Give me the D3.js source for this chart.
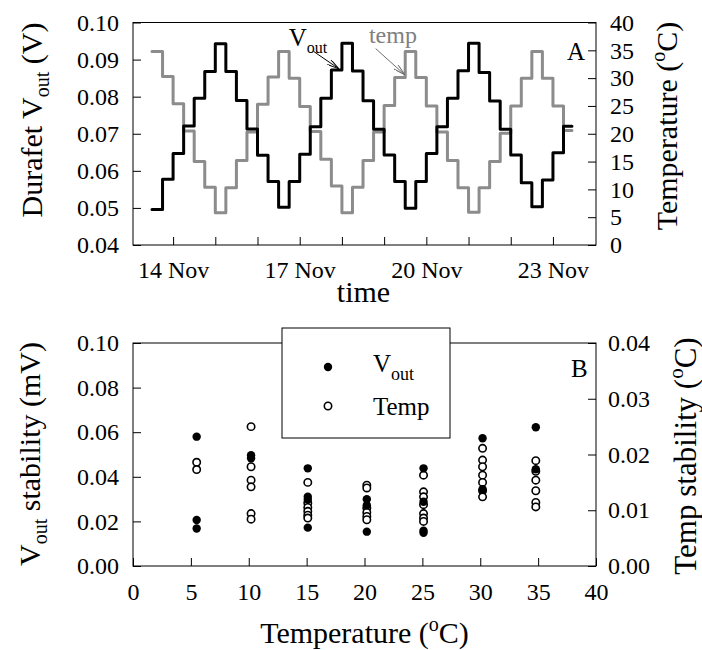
<!DOCTYPE html>
<meta charset="utf-8">
<style>
body { margin: 0; background: #fff; }
text { font-family: "Liberation Serif", "Times New Roman", serif; }
.frame { fill: none; stroke: #000; stroke-width: 1px; }
.step { fill: none; stroke-width: 3px; stroke-linejoin: round; stroke-linecap: round; }
</style>
<body>
<div id="chart"></div>
<script src="https://d3js.org/d3.v7.min.js"></script>
<script>
// ---- panel A : set-point steps (start day in November, 6 h each) ----
var stepDays = [13.50, 13.75, 14.00, 14.25, 14.50, 14.75, 15.00, 15.25, 15.50, 15.75,
                16.00, 16.25, 16.50, 16.75, 17.00, 17.25, 17.50, 17.75, 18.00, 18.25,
                18.50, 18.75, 19.00, 19.25, 19.50, 19.75, 20.00, 20.25, 20.50, 20.75,
                21.00, 21.25, 21.50, 21.75, 22.00, 22.25, 22.50, 22.75, 23.00, 23.25];
var endDay = 23.45;
var tempSteps = [34.8, 30.3, 25.4, 20.5, 15.0, 10.4, 5.8, 10.3, 15.2, 20.3, 25.3, 30.2,
                 34.8, 30.0, 24.9, 20.4, 15.4, 10.6, 5.8, 10.4, 15.2, 20.3, 25.1, 30.1,
                 34.8, 30.1, 25.0, 20.3, 15.2, 10.3, 5.9, 10.3, 15.0, 20.1, 25.0, 30.0,
                 34.8, 30.0, 25.0, 20.6];
var voutSteps = [0.0496, 0.0577, 0.0647, 0.0721, 0.0796, 0.0868, 0.0943, 0.0868, 0.0790, 0.0713, 0.0642, 0.0571,
                 0.0502, 0.0571, 0.0645, 0.0719, 0.0796, 0.0872, 0.0944, 0.0869, 0.0789, 0.0712, 0.0643, 0.0571,
                 0.0499, 0.0571, 0.0647, 0.0719, 0.0796, 0.0870, 0.0944, 0.0865, 0.0788, 0.0712, 0.0643, 0.0568,
                 0.0503, 0.0575, 0.0649, 0.0720];
var dayTicks = [14, 15, 16, 17, 18, 19, 20, 21, 22, 23];
var labelDays = [14, 17, 20, 23];
var labelNames = ["14 Nov", "17 Nov", "20 Nov", "23 Nov"];
var voltTicks = [0.04, 0.05, 0.06, 0.07, 0.08, 0.09, 0.10];
var tempTicks = [0, 5, 10, 15, 20, 25, 30, 35, 40];

// ---- panel B : stability at each set point ----
var stabTemps = [5.5, 10.2, 15.1, 20.2, 25.1, 30.2, 34.8];
var voutStab = [
  [0.0580, 0.0206, 0.0168],
  [0.0497, 0.0483],
  [0.0438, 0.0311, 0.0298, 0.0172],
  [0.0299, 0.0272, 0.0154],
  [0.0438, 0.0288, 0.0158, 0.0149],
  [0.0573, 0.0344],
  [0.0622, 0.0434]
];
var tempStab = [
  [0.0186, 0.0173],
  [0.0250, 0.0178, 0.0154, 0.0142, 0.0094, 0.0084],
  [0.0150, 0.0113, 0.0105, 0.0098, 0.0091, 0.0086],
  [0.0145, 0.0140, 0.0104, 0.0096, 0.0089, 0.0083],
  [0.0163, 0.0133, 0.0124, 0.0110, 0.0094, 0.0086, 0.0080],
  [0.0211, 0.0190, 0.0178, 0.0163, 0.0150, 0.0135, 0.0124],
  [0.0189, 0.0170, 0.0154, 0.0135, 0.0114, 0.0106]
];
var stabXTicks = [0, 5, 10, 15, 20, 25, 30, 35, 40];
var voutStabTicks = [0, 0.02, 0.04, 0.06, 0.08, 0.10];
var tempStabTicks = [0, 0.01, 0.02, 0.03, 0.04];

var tickFont = 24, titleFont = 30;

var svg = d3.select("#chart").append("svg")
    .attr("width", 702)
    .attr("height", 650);

// arrow head used by the curve labels
svg.append("defs").append("marker")
    .attr("id", "head")
    .attr("viewBox", "0 0 12 6")
    .attr("refX", 12).attr("refY", 3)
    .attr("markerWidth", 12).attr("markerHeight", 6)
    .attr("markerUnits", "userSpaceOnUse")
    .attr("orient", "auto")
  .append("path")
    .attr("d", "M0,0 L12,3 L0,6")
    .attr("fill", "none")
    .attr("stroke", "context-stroke")
    .attr("stroke-width", 1);

function styleAxis(g) {
  g.attr("font-size", tickFont).attr("font-family", "Liberation Serif, serif");
  g.select(".domain").remove();
  g.selectAll(".tick line").attr("stroke", "#000");
}

/* ================= panel A ================= */
var A = {left: 133, right: 596, top: 22.5, bottom: 245};
var xA = d3.scaleLinear().domain([13.05, 24.02]).range([A.left, A.right]);
var yV = d3.scaleLinear().domain([0.04, 0.10]).range([A.bottom, A.top]);
var yT = d3.scaleLinear().domain([0, 40]).range([A.bottom, A.top]);

var tempPts = stepDays.map(function(d, i) { return {x: d, y: tempSteps[i]}; });
tempPts.push({x: endDay, y: tempSteps[tempSteps.length - 1]});
var voutPts = stepDays.map(function(d, i) { return {x: d, y: voutSteps[i]}; });
voutPts.push({x: endDay, y: voutSteps[voutSteps.length - 1]});

var tempLine = d3.line().curve(d3.curveStepAfter)
    .x(function(d) { return xA(d.x); })
    .y(function(d) { return yT(d.y); });
var voutLine = d3.line().curve(d3.curveStepAfter)
    .x(function(d) { return xA(d.x); })
    .y(function(d) { return yV(d.y); });

svg.append("path").datum(tempPts)
    .attr("class", "step").attr("stroke", "#8c8c8c")
    .attr("d", tempLine);
svg.append("path").datum(voutPts)
    .attr("class", "step").attr("stroke", "#000")
    .attr("d", voutLine);

// axes (ticks point inward)
svg.append("g")
    .attr("transform", "translate(0," + A.bottom + ")")
    .call(d3.axisBottom(xA).tickValues(dayTicks).tickSizeInner(-8).tickSizeOuter(0).tickPadding(16)
      .tickFormat(function(d) { var i = labelDays.indexOf(d); return i < 0 ? "" : labelNames[i]; }))
    .call(styleAxis);
svg.append("g")
    .attr("transform", "translate(" + A.left + ",0)")
    .call(d3.axisLeft(yV).tickValues(voltTicks).tickSizeInner(-8).tickSizeOuter(0).tickPadding(14)
      .tickFormat(d3.format(".2f")))
    .call(styleAxis);
svg.append("g")
    .attr("transform", "translate(" + A.right + ",0)")
    .call(d3.axisRight(yT).tickValues(tempTicks).tickSizeInner(-8).tickSizeOuter(0).tickPadding(14))
    .call(styleAxis);

svg.append("rect").attr("class", "frame")
    .attr("x", A.left).attr("y", A.top)
    .attr("width", A.right - A.left).attr("height", A.bottom - A.top);

// curve labels
var vLab = svg.append("text")
    .attr("x", xA(16.74)).attr("y", yV(0.0936))
    .attr("font-size", 25);
vLab.append("tspan").text("V");
vLab.append("tspan").attr("dy", 7).attr("font-size", 16).text("out");
svg.append("line")
    .attr("x1", xA(17.33)).attr("y1", yV(0.0922))
    .attr("x2", xA(17.93)).attr("y2", yV(0.0875))
    .attr("stroke", "#000").attr("stroke-width", 1)
    .attr("marker-end", "url(#head)");

svg.append("text")
    .attr("x", xA(18.64)).attr("y", yT(36.4))
    .attr("font-size", 24).attr("fill", "#808080")
    .text("temp");
svg.append("line")
    .attr("x1", xA(18.80)).attr("y1", yT(35.3))
    .attr("x2", xA(19.49)).attr("y2", yT(30.6))
    .attr("stroke", "#707070").attr("stroke-width", 1)
    .attr("marker-end", "url(#head)");

svg.append("text").attr("x", 567).attr("y", 60).attr("font-size", 25).text("A");

// titles
svg.append("text")
    .attr("x", (A.left + A.right) / 2 - 1).attr("y", 302)
    .attr("text-anchor", "middle").attr("font-size", titleFont)
    .text("time");

var tl = svg.append("text")
    .attr("transform", "translate(42,120) rotate(-90)")
    .attr("text-anchor", "middle").attr("font-size", titleFont);
tl.append("tspan").text("Durafet V");
tl.append("tspan").attr("dy", 7).attr("font-size", 20).text("out");
tl.append("tspan").attr("dy", -7).text(" (V)");

var tr = svg.append("text")
    .attr("transform", "translate(677,126) rotate(-90)")
    .attr("text-anchor", "middle").attr("font-size", titleFont);
tr.append("tspan").text("Temperature (");
tr.append("tspan").attr("dy", -12).attr("font-size", 20).text("o");
tr.append("tspan").attr("dy", 12).text("C)");

/* ================= panel B ================= */
var B = {left: 133, right: 596, top: 343, bottom: 566};
var xB = d3.scaleLinear().domain([0, 40]).range([B.left, B.right]);
var yS = d3.scaleLinear().domain([0, 0.10]).range([B.bottom, B.top]);
var yTS = d3.scaleLinear().domain([0, 0.04]).range([B.bottom, B.top]);

var openPts = [], filledPts = [];
stabTemps.forEach(function(t, i) {
  tempStab[i].forEach(function(v) { openPts.push({x: t, y: v}); });
  voutStab[i].forEach(function(v) { filledPts.push({x: t, y: v}); });
});

svg.append("g").selectAll("circle")
    .data(openPts)
    .enter().append("circle")
    .attr("cx", function(d) { return xB(d.x); })
    .attr("cy", function(d) { return yTS(d.y); })
    .attr("r", 3.7)
    .attr("fill", "#fff")
    .attr("stroke", "#000")
    .attr("stroke-width", 1.6);
svg.append("g").selectAll("circle")
    .data(filledPts)
    .enter().append("circle")
    .attr("cx", function(d) { return xB(d.x); })
    .attr("cy", function(d) { return yS(d.y); })
    .attr("r", 4.2)
    .attr("fill", "#000");

svg.append("g")
    .attr("transform", "translate(0," + B.bottom + ")")
    .call(d3.axisBottom(xB).tickValues(stabXTicks).tickSizeInner(-8).tickSizeOuter(0).tickPadding(17))
    .call(styleAxis);
svg.append("g")
    .attr("transform", "translate(" + B.left + ",0)")
    .call(d3.axisLeft(yS).tickValues(voutStabTicks).tickSizeInner(-8).tickSizeOuter(0).tickPadding(14)
      .tickFormat(d3.format(".2f")))
    .call(styleAxis);
svg.append("g")
    .attr("transform", "translate(" + B.right + ",0)")
    .call(d3.axisRight(yTS).tickValues(tempStabTicks).tickSizeInner(-8).tickSizeOuter(0).tickPadding(12)
      .tickFormat(d3.format(".2f")))
    .call(styleAxis);

svg.append("rect").attr("class", "frame")
    .attr("x", B.left).attr("y", B.top)
    .attr("width", B.right - B.left).attr("height", B.bottom - B.top);

// legend box (sits over the top frame line)
svg.append("rect")
    .attr("x", 282).attr("y", 328).attr("width", 168).attr("height", 110)
    .attr("fill", "#fff").attr("stroke", "#000").attr("stroke-width", 1);
svg.append("circle").attr("cx", 328).attr("cy", 367).attr("r", 4.2).attr("fill", "#000");
svg.append("circle").attr("cx", 328).attr("cy", 406).attr("r", 3.7)
    .attr("fill", "#fff").attr("stroke", "#000").attr("stroke-width", 1.6);
var lg = svg.append("text").attr("x", 373).attr("y", 372).attr("font-size", 25);
lg.append("tspan").text("V");
lg.append("tspan").attr("dy", 8).attr("font-size", 18).text("out");
svg.append("text").attr("x", 373).attr("y", 415).attr("font-size", 25).text("Temp");

svg.append("text").attr("x", 571).attr("y", 377).attr("font-size", 25).text("B");

var bt = svg.append("text")
    .attr("x", (B.left + B.right) / 2).attr("y", 643)
    .attr("text-anchor", "middle").attr("font-size", titleFont);
bt.append("tspan").text("Temperature (");
bt.append("tspan").attr("dy", -12).attr("font-size", 20).text("o");
bt.append("tspan").attr("dy", 12).text("C)");

var bl = svg.append("text")
    .attr("transform", "translate(40,454) rotate(-90)")
    .attr("text-anchor", "middle").attr("font-size", titleFont);
bl.append("tspan").text("V");
bl.append("tspan").attr("dy", 7).attr("font-size", 20).text("out");
bl.append("tspan").attr("dy", -7).text(" stability (mV)");

var br = svg.append("text")
    .attr("transform", "translate(696,456) rotate(-90)")
    .attr("text-anchor", "middle").attr("font-size", 31);
br.append("tspan").text("Temp stability (");
br.append("tspan").attr("dy", -13).attr("font-size", 21).text("o");
br.append("tspan").attr("dy", 13).text("C)");
</script>
</body>
